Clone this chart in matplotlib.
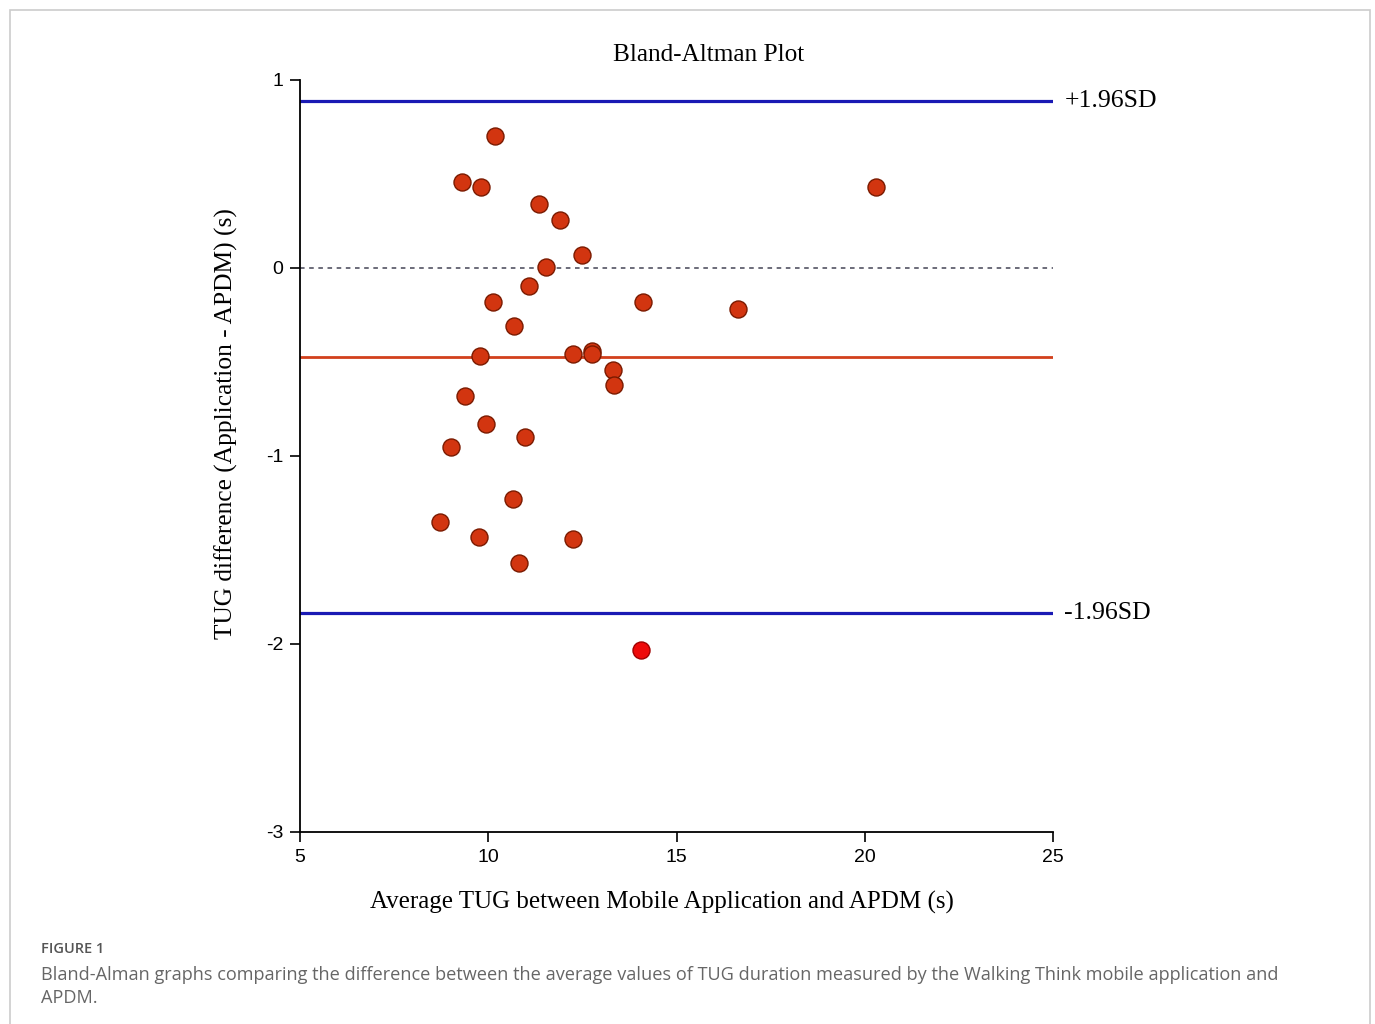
import matplotlib.pyplot as plt
from matplotlib.patches import Rectangle

# data
avg_tug = [10.18, 9.30, 9.81, 11.35, 11.91, 12.49, 11.53, 11.08, 10.13, 14.11,
           16.63, 10.68, 9.78, 12.25, 12.76, 12.76, 13.31, 13.34, 9.38, 9.94,
           10.98, 9.01, 10.66, 8.72, 9.75, 12.25, 10.82, 20.30]
diff_tug = [0.70, 0.46, 0.43, 0.34, 0.255, 0.07, 0.005, -0.096, -0.18, -0.18,
            -0.22, -0.31, -0.47, -0.46, -0.44, -0.46, -0.54, -0.62, -0.68, -0.83,
            -0.90, -0.95, -1.23, -1.35, -1.43, -1.44, -1.57, 0.43]
outlier_x = [14.06]
outlier_y = [-2.03]

mean_diff = -0.473
upper_loa = 0.888
lower_loa = -1.835

x_ticks = [5, 10, 15, 20, 25]
y_ticks = [1, 0, -1, -2, -3]

serif = 'Liberation Serif'
sans = 'Liberation Sans'
W, H = 1375, 1024

fig = plt.figure(figsize=(13.75, 10.24), dpi=100)
ax = fig.add_axes([300 / W, 1 - 832 / H, 753 / W, 752 / H])

ax.plot([5, 25], [upper_loa, upper_loa], color='#1a1ab4', lw=2.3, zorder=2)
ax.plot([5, 25], [lower_loa, lower_loa], color='#1a1ab4', lw=2.3, zorder=2)
ax.plot([5, 25], [mean_diff, mean_diff], color='#d2401c', lw=2.0, zorder=2)
ax.plot([5, 25], [0, 0], color='#444455', lw=1.1, ls=(0, (3, 3)), zorder=2)

ax.scatter(avg_tug, diff_tug, s=150, color='#d23510', edgecolor='#7a1a00',
           linewidth=1.0, zorder=3)
ax.scatter(outlier_x, outlier_y, s=150, color='#ee0a0a', edgecolor='#a00000',
           linewidth=1.0, zorder=3)

ax.text(25.3, upper_loa, '+1.96SD', fontsize=18.5, family=serif, va='center', ha='left')
ax.text(25.3, lower_loa, '-1.96SD', fontsize=18.5, family=serif, va='center', ha='left')

ax.set_xlim(5, 25)
ax.set_ylim(-3, 1)
ax.set_xticks(x_ticks)
ax.set_yticks(y_ticks)
ax.set_xticklabels([str(v) for v in x_ticks], family=sans, fontsize=14)
ax.set_yticklabels([str(v) for v in y_ticks], family=sans, fontsize=14)
ax.tick_params(direction='out', length=7, width=1.2, pad=5)
ax.spines['top'].set_visible(False)
ax.spines['right'].set_visible(False)
ax.spines['left'].set_linewidth(1.3)
ax.spines['bottom'].set_linewidth(1.3)

fig.text(709 / W, 1 - 55 / H, 'Bland-Altman Plot', family=serif, fontsize=18.2,
         ha='center', va='center')
fig.text(662 / W, 1 - 902 / H, 'Average TUG between Mobile Application and APDM (s)',
         family=serif, fontsize=18, ha='center', va='center')
fig.text(226 / W, 1 - 424 / H, 'TUG difference (Application - APDM) (s)',
         family=serif, fontsize=18.3, ha='center', va='center', rotation=90)

# outer frame of the figure panel
fig.patches.append(Rectangle((10 / W, -0.05), 1360 / W, 1 - 10 / H + 0.05,
                             transform=fig.transFigure, fill=False,
                             edgecolor='#cccccc', lw=1.2))

fig.text(41 / W, 1 - 949 / H, 'FIGURE 1', family='Open Sans', fontsize=10.5,
         color='#555555', va='center', weight='semibold')
fig.text(41 / W, 1 - 975 / H,
         'Bland-Alman graphs comparing the difference between the average values of '
         'TUG duration measured by the Walking Think mobile application and',
         family='Open Sans', fontsize=13.1, color='#666666', va='center')
fig.text(41 / W, 1 - 998 / H, 'APDM.', family='Open Sans', fontsize=13.1,
         color='#666666', va='center')

fig.savefig('out.png', dpi=100)
